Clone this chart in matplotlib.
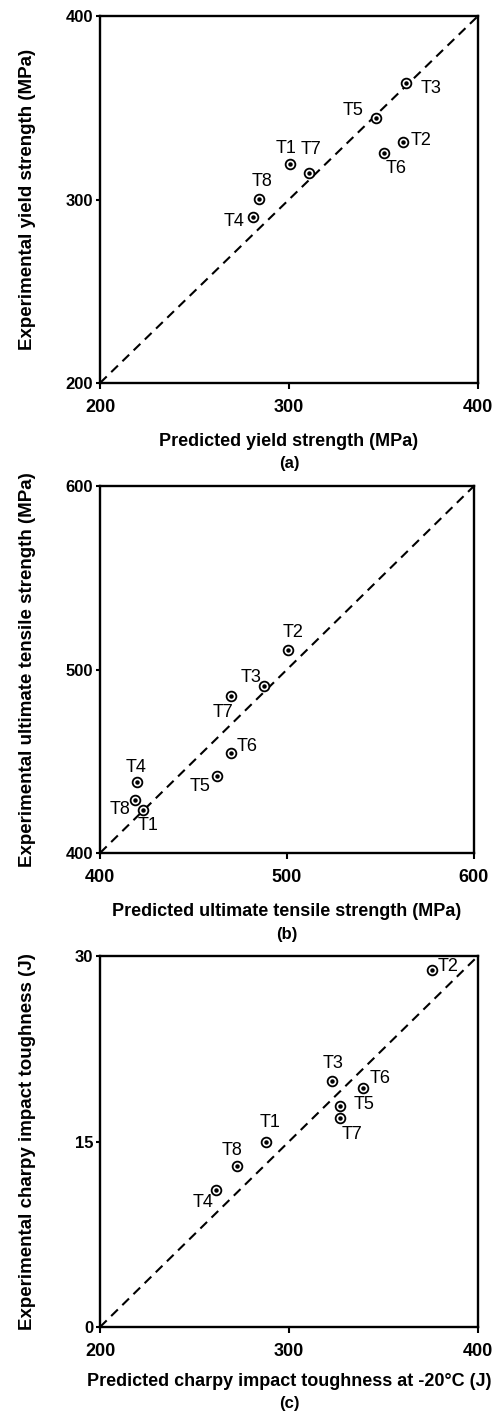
import matplotlib
matplotlib.use("Agg")
import matplotlib.pyplot as plt

plt.rcParams['font.family'] = ["Liberation Sans", "DejaVu Sans"]

labels = ["T1", "T2", "T3", "T4", "T5", "T6", "T7", "T8"]

# (a) yield strength
ys_pred = [300.4, 360.4, 362.1, 280.7, 345.9, 350.3, 310.7, 283.9]
ys_exp = [319.2, 331.2, 363.7, 290.7, 344.3, 325.2, 314.7, 300.2]

# (b) ultimate tensile strength
uts_pred = [422.8, 500.4, 487.5, 419.6, 462.3, 470.3, 469.8, 418.7]
uts_exp = [423.6, 510.7, 491.1, 438.8, 441.7, 454.4, 485.8, 428.7]

# (c) charpy impact toughness
cv_pred = [287.6, 375.7, 322.5, 261.3, 326.9, 339.2, 326.9, 272.6]
cv_exp = [15.0, 28.9, 19.9, 11.1, 17.9, 19.3, 16.9, 13.0]

W, H = 501, 1419

panels = [
    dict(x=ys_pred, y=ys_exp, xlim=(200, 400), ylim=(200, 400),
         xt=[200, 300, 400], yt=[200, 300, 400],
         xlabel="Predicted yield strength (MPa)",
         ylabel="Experimental yield strength (MPa)", tag="(a)",
         box=(100, 478, 16, 383), xl_y=-0.136, tag_y=-0.218,
         off=[(-4, 16), (18, 2), (25, -6), (-18, -5), (-23, 8), (12, -15), (2, 23), (3, 18)]),
    dict(x=uts_pred, y=uts_exp, xlim=(400, 600), ylim=(400, 600),
         xt=[400, 500, 600], yt=[400, 500, 600],
         xlabel="Predicted ultimate tensile strength (MPa)",
         ylabel="Experimental ultimate tensile strength (MPa)", tag="(b)",
         box=(100, 474, 486, 853), xl_y=-0.136, tag_y=-0.223,
         off=[(5, -16), (5, 17), (-13, 8), (-1, 14), (-16, -10), (16, 7), (-8, -17), (-15, -9)]),
    dict(x=cv_pred, y=cv_exp, xlim=(200, 400), ylim=(0, 30),
         xt=[200, 300, 400], yt=[0, 15, 30],
         xlabel="Predicted charpy impact toughness at -20\u00b0C (J)",
         ylabel="Experimental charpy impact toughness (J)", tag="(c)",
         box=(100, 478, 956, 1327), xl_y=-0.125, tag_y=-0.206,
         off=[(4, 19), (16, 3), (2, 17), (-13, -13), (24, 1), (17, 10), (12, -16), (-5, 16)]),
]

fig = plt.figure(figsize=(W / 100, H / 100), dpi=100)

for p in panels:
    l, r, t, b = p["box"]
    ax = fig.add_axes([l / W, (H - b) / H, (r - l) / W, (b - t) / H])
    ax.plot(p["xlim"], p["ylim"], ls=(0, (4.5, 3)), color="black", lw=1.5)
    ax.plot(p["x"], p["y"], "o", ms=7, mfc="white", mec="black", mew=1.3, ls="none")
    ax.plot(p["x"], p["y"], "o", ms=2.2, color="black", ls="none")
    for lab, xv, yv, (dx, dy) in zip(labels, p["x"], p["y"], p["off"]):
        ax.annotate(lab, (xv, yv), xytext=(dx, dy), textcoords="offset pixels",
                    ha="center", va="center", fontsize=13)
    ax.set_xlim(p["xlim"])
    ax.set_ylim(p["ylim"])
    ax.set_xticks(p["xt"])
    ax.set_yticks(p["yt"])
    ax.tick_params(axis="x", length=4, width=1.5, labelsize=13, pad=7.5)
    ax.tick_params(axis="y", length=3, width=1.5, labelsize=12, pad=2)
    for s in ax.spines.values():
        s.set_linewidth(1.7)
    for tl in ax.get_xticklabels() + ax.get_yticklabels():
        tl.set_fontweight("bold")
    ax.set_xlabel(p["xlabel"], fontsize=13, fontweight="bold")
    ax.xaxis.set_label_coords(0.5, p["xl_y"])
    ax.set_ylabel(p["ylabel"], fontsize=13.5, fontweight="bold")
    ax.yaxis.set_label_coords(-0.17, 0.5)
    ax.text(0.5, p["tag_y"], p["tag"], transform=ax.transAxes, ha="center", va="center",
            fontsize=12, fontweight="bold")

fig.savefig("out.png", dpi=100)
